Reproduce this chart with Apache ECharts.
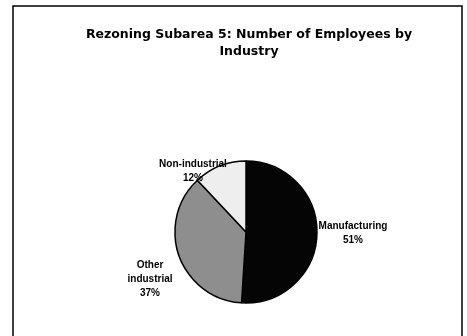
<!DOCTYPE html>
<html>
<head>
<meta charset="utf-8">
<script src="https://cdn.jsdelivr.net/npm/echarts@6/dist/echarts.min.js"></script>
<style>
  html, body { margin: 0; padding: 0; background: #fff; }
  #chart { width: 467px; height: 336px; }
</style>
</head>
<body>
<div id="chart"></div>
<script>
// Subarea 5 employees by industry (shares, %)
const categories = ["Manufacturing", "Other\nindustrial", "Non-industrial"];
const shares = [51, 37, 12];
const sliceColors = ["#050505", "#8e8e8e", "#eeeeee"];

// label anchor positions (px), same order as categories
const labelSpots = [[353, 233], [150, 279], [193, 171]];

const chart = echarts.init(document.getElementById("chart"));

chart.setOption({
  animation: false,
  backgroundColor: "#fff",
  title: {
    text: "Rezoning Subarea 5: Number of Employees by\nIndustry",
    left: 244,
    textAlign: "center",
    top: 21,
    textStyle: {
      fontFamily: "DejaVu Sans",
      fontSize: 12.5,
      fontWeight: "bold",
      color: "#000",
      lineHeight: 17
    }
  },
  graphic: [{
    type: "rect",
    shape: { x: 13, y: 6, width: 449, height: 340 },
    style: { fill: "none", stroke: "#000", lineWidth: 1.5 },
    silent: true
  }],
  series: [{
    type: "pie",
    center: [246, 232],
    radius: 71,
    startAngle: 90,
    clockwise: true,
    itemStyle: { borderColor: "#000", borderWidth: 1.5 },
    labelLine: { show: false },
    label: {
      show: true,
      position: "outside",
      formatter: (p) => `${p.name}\n${p.value}%`,
      fontFamily: "Liberation Sans",
      fontSize: 10,
      fontWeight: "bold",
      color: "#000",
      lineHeight: 14,
      align: "center"
    },
    labelLayout: (p) => ({
      x: labelSpots[p.dataIndex][0],
      y: labelSpots[p.dataIndex][1],
      align: "center",
      verticalAlign: "middle"
    }),
    data: categories.map((name, i) => ({
      name,
      value: shares[i],
      itemStyle: { color: sliceColors[i] }
    }))
  }]
});
</script>
</body>
</html>
